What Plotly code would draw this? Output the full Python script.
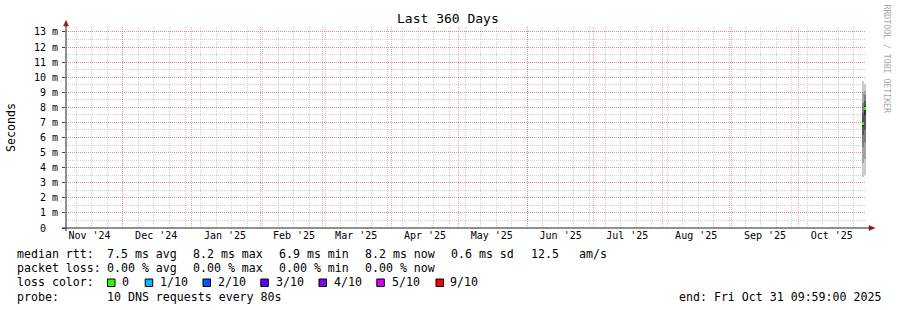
import plotly.graph_objects as go
import pandas as pd

# ---------------- data ----------------
range_start = "2024-11-05 09:59:00"
range_end = "2025-10-31 09:59:00"
interval_ends = ["2025-10-30 09:59:00", "2025-10-31 09:59:00"]
# sorted ping RTTs (ms) of each consolidated interval
ping_sorted = [
    [3.35, 4.3, 5.4, 6.2, 6.7, 7.1, 7.6, 8.3, 9.0, 9.75],
    [3.5, 4.6, 5.7, 6.5, 7.5, 8.1, 8.4, 8.8, 9.1, 9.55],
]
median_rtt = [6.95, 7.9]
month_starts = pd.date_range("2024-12-01", "2025-10-01", freq="MS")
month_label_pos = pd.date_range("2024-11-16", "2025-10-16", freq="MS") + pd.Timedelta(days=15)
month_label_pos = [pd.Timestamp(f"{d.year}-{d.month:02d}-16") for d in pd.date_range("2024-11-01", "2025-10-01", freq="MS")]
month_labels = ["Nov '24", "Dec '24", "Jan '25", "Feb '25", "Mar '25", "Apr '25",
                "May '25", "Jun '25", "Jul '25", "Aug '25", "Sep '25", "Oct '25"]
y_tick_values = list(range(0, 14))
y_tick_labels = ["0\u00a0\u00a0"] + [f"{v} m" for v in range(1, 14)]
loss_labels = ["0", "1/10", "2/10", "3/10", "4/10", "5/10", "9/10"]
loss_colors = ["#26ff00", "#00b8ff", "#0059ff", "#5e00ff", "#7e00ff", "#dd00ff", "#ff0000"]
rtt_stats = ["7.5 ms avg", "8.2 ms max", "6.9 ms min", "8.2 ms now", "0.6 ms sd", "12.5", "am/s"]
loss_stats = ["0.00 % avg", "0.00 % max", "0.00 % min", "0.00 % now"]
smoke_shades = ["#cacaca", "#a4a4a4", "#7e7e7e", "#585858", "#323232"]

# ---------------- layout geometry (pixels) ----------------
W, H = 897, 310
L, R, T, B = 66, 866, 27, 228
PW, PH = R - L, B - T
MONO = "DejaVu Sans Mono"


def px(xp):
    return (xp - L) / PW


def py(yp):
    return (B - yp) / PH


DAY_MS = 86400000
centers = [pd.Timestamp(e) - pd.Timedelta(hours=12) for e in interval_ends]

fig = go.Figure()
# invisible anchor trace for the grid axis
fig.add_trace(go.Scatter(x=[range_start, range_end], y=[0, 0], xaxis="x2", mode="markers",
                         marker=dict(opacity=0), showlegend=False, hoverinfo="skip"))
n = len(ping_sorted[0])
for i in range(n // 2):
    lows = [p[i] for p in ping_sorted]
    highs = [p[n - 1 - i] for p in ping_sorted]
    fig.add_trace(go.Bar(
        x=centers, base=lows, y=[h - l for h, l in zip(highs, lows)],
        width=DAY_MS, marker=dict(color=smoke_shades[i], line=dict(width=0)),
        showlegend=False, hoverinfo="skip"))

thick = 0.2
fig.add_trace(go.Bar(
    x=centers, base=[m - thick / 2 for m in median_rtt], y=[thick] * len(median_rtt),
    width=DAY_MS, marker=dict(color=loss_colors[0], line=dict(width=0)),
    showlegend=False, hoverinfo="skip"))

grid_red = "rgba(240,80,80,0.5)"
grid_gray = "rgba(160,160,160,0.5)"

fig.update_layout(
    width=W, height=H,
    margin=dict(l=L, r=W - R, t=T, b=H - B, pad=0),
    paper_bgcolor="white", plot_bgcolor="white",
    barmode="overlay", bargap=0,
    font=dict(family=MONO, size=10, color="black"),
    showlegend=False,
    xaxis=dict(
        type="date", range=[range_start, range_end],
        tickmode="array", tickvals=month_label_pos, ticktext=month_labels,
        showgrid=False, showline=False, zeroline=False, ticks="",
        tickfont=dict(family=MONO, size=10, color="black"),
        fixedrange=True,
    ),
    xaxis2=dict(
        type="date", range=[range_start, range_end], overlaying="x", side="bottom",
        tickmode="array", tickvals=list(month_starts), showticklabels=False, ticks="",
        showgrid=True, gridcolor=grid_red, griddash="1px,1px", gridwidth=1,
        minor=dict(tickmode="linear", dtick=7 * DAY_MS, tick0="2024-11-10", showgrid=True,
                   gridcolor=grid_gray, griddash="1px,1px", gridwidth=1),
        showline=False, zeroline=False, fixedrange=True,
    ),
    yaxis=dict(
        range=[0, 13.33], tickmode="array", tickvals=y_tick_values, ticktext=y_tick_labels,
        showgrid=True, gridcolor=grid_red, griddash="1px,1px", gridwidth=1,
        minor=dict(dtick=0.5, showgrid=True, gridcolor=grid_gray, griddash="1px,1px", gridwidth=1),
        showline=False, zeroline=False, ticks="outside", ticklen=3, tickcolor="#444",
        ticklabelstandoff=2,
        tickfont=dict(family=MONO, size=10, color="black"),
        fixedrange=True,
    ),
)

shapes = []
axis_col = "#222222"
arrow_col = "#8b1a1a"
# x axis line + arrow
shapes.append(dict(type="line", xref="paper", yref="paper", x0=px(62), x1=px(870), y0=py(228), y1=py(228),
                   line=dict(color=axis_col, width=1), layer="above"))
shapes.append(dict(type="path", xref="paper", yref="paper",
                   path=f"M {px(869)} {py(225.5)} L {px(875)} {py(228)} L {px(869)} {py(230.5)} Z",
                   fillcolor=arrow_col, line=dict(color=arrow_col, width=0.5), layer="above"))
# y axis line + arrow
shapes.append(dict(type="line", xref="paper", yref="paper", x0=px(66), x1=px(66), y0=py(231), y1=py(25),
                   line=dict(color=axis_col, width=1), layer="above"))
shapes.append(dict(type="path", xref="paper", yref="paper",
                   path=f"M {px(63.5)} {py(26)} L {px(66)} {py(20.5)} L {px(68.5)} {py(26)} Z",
                   fillcolor=arrow_col, line=dict(color=arrow_col, width=0.5), layer="above"))

ann = []


def text(x, y, s, size=11.6, color="black", xanchor="left", angle=0):
    ann.append(dict(xref="paper", yref="paper", x=px(x), y=py(y), text=s, showarrow=False,
                    xanchor=xanchor, yanchor="middle", textangle=angle,
                    borderpad=0, borderwidth=0,
                    font=dict(family=MONO, size=size, color=color)))


# title and axis titles
text(447.5, 19, "Last 360 Days", size=13, xanchor="center")
text(11, 127, "Seconds", size=11.6, xanchor="center", angle=-90)
text(886.5, 59, "RRDTOOL / TOBI OETIKER", size=8.2, color="#a8a8a8", xanchor="center", angle=90)

# legend rows
row_y = [254, 268.3, 282.3, 296.6]
text(16.7, row_y[0], "median rtt:")
for s, x in zip(rtt_stats, [107.3, 193.3, 279.3, 365.3, 451, 530.7, 579.3]):
    text(x, row_y[0], s)
text(16.7, row_y[1], "packet loss:")
for s, x in zip(loss_stats, [107.3, 193.3, 279.3, 365.3]):
    text(x, row_y[1], s)
text(16.7, row_y[2], "loss color:")
box_x = [107.5, 145.2, 203, 260.8, 319, 376.8, 436]
label_x = [122, 160.3, 217.7, 275.5, 333.5, 391.5, 450]
for lab, col, bx, lx in zip(loss_labels, loss_colors, box_x, label_x):
    shapes.append(dict(type="rect", xref="paper", yref="paper",
                       x0=px(bx), x1=px(bx + 7.5), y0=py(286.5), y1=py(279),
                       fillcolor=col, line=dict(color="black", width=1)))
    text(lx, row_y[2], lab)
text(16.7, row_y[3], "probe:")
text(107.3, row_y[3], "10 DNS requests every 80s")
text(881, row_y[3], "end: Fri Oct 31 09:59:00 2025", xanchor="right")

fig.update_layout(shapes=shapes, annotations=ann)
fig.write_html("out.html")
